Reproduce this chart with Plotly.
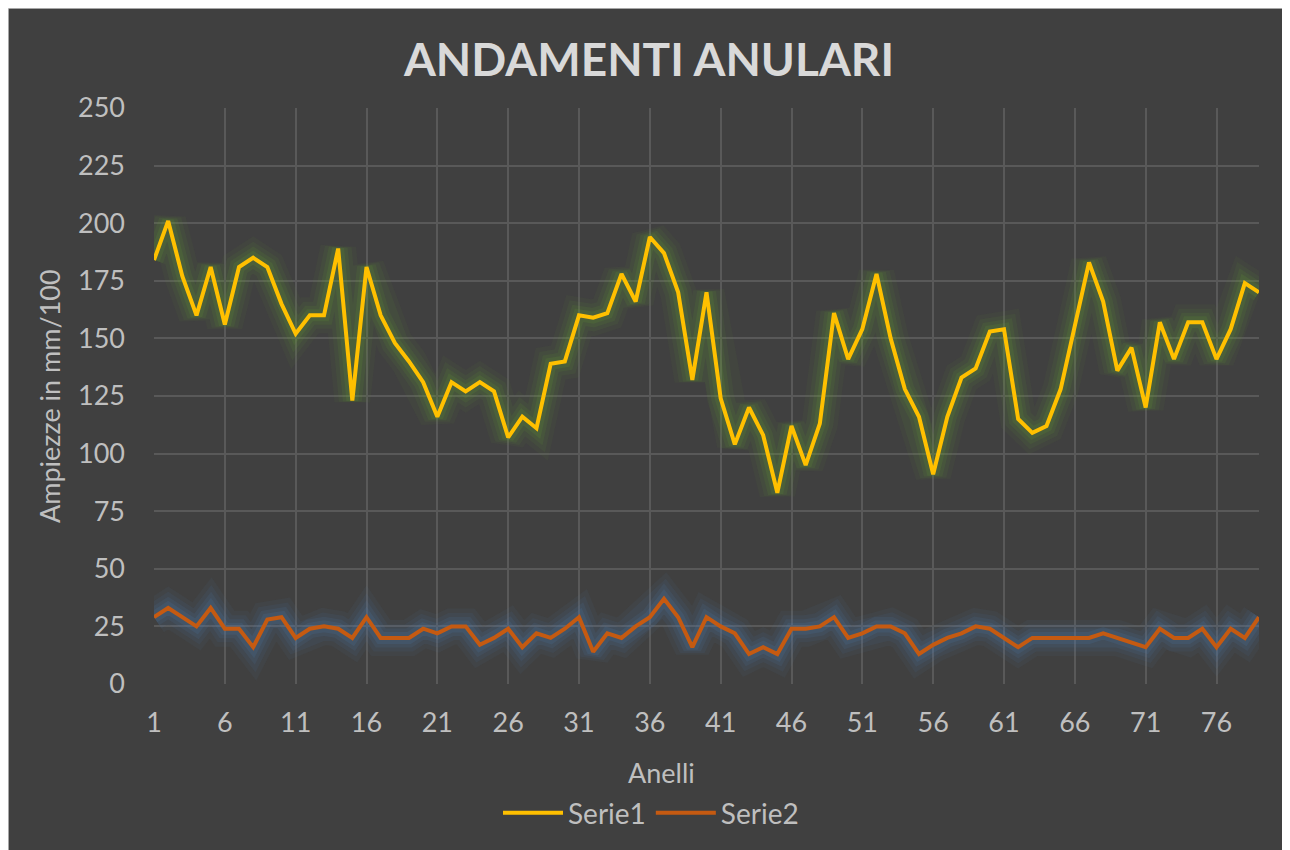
import plotly.graph_objects as go

anelli = list(range(1, 80))
serie1 = [184, 201, 177, 160, 181, 156, 181, 185, 181, 165,
          152, 160, 160, 189, 123, 181, 160, 148, 140, 131,
          116, 131, 127, 131, 127, 107, 116, 111, 139, 140,
          160, 159, 161, 178, 166, 194, 187, 170, 132, 170,
          124, 104, 120, 108, 83, 112, 95, 113, 161, 141,
          154, 178, 150, 128, 116, 91, 116, 133, 137, 153,
          154, 115, 109, 112, 128, 156, 183, 166, 136, 146,
          120, 157, 141, 157, 157, 141, 154, 174, 170]
serie2 = [29, 33, 29, 25, 33, 24, 24, 16, 28, 29,
          20, 24, 25, 24, 20, 29, 20, 20, 20, 24,
          22, 25, 25, 17, 20, 24, 16, 22, 20, 24,
          29, 14, 22, 20, 25, 29, 37, 29, 16, 29,
          25, 22, 13, 16, 13, 24, 24, 25, 29, 20,
          22, 25, 25, 22, 13, 17, 20, 22, 25, 24,
          20, 16, 20, 20, 20, 20, 20, 22, 20, 18,
          16, 24, 20, 20, 24, 16, 24, 20, 29]
x_ticks = list(range(1, 80, 5))
y_ticks = list(range(0, 251, 25))

BG = "#404040"
GRID = "#595959"
TXT = "#bfbfbf"
FONT = "Lato"

fig = go.Figure()

# glow layers
for w, a in [(36, 0.06), (27, 0.08), (19, 0.11), (12, 0.14)]:
    fig.add_trace(go.Scatter(x=anelli, y=serie1, mode="lines", showlegend=False, hoverinfo="skip",
                             line=dict(color=f"rgba(100,160,50,{a})", width=w)))
    fig.add_trace(go.Scatter(x=anelli, y=serie2, mode="lines", showlegend=False, hoverinfo="skip",
                             line=dict(color=f"rgba(80,130,185,{a})", width=w)))

fig.add_trace(go.Scatter(x=anelli, y=serie1, mode="lines", name="Serie1",
                         line=dict(color="#ffc000", width=4)))
fig.add_trace(go.Scatter(x=anelli, y=serie2, mode="lines", name="Serie2",
                         line=dict(color="#c55a11", width=4)))

OFF = 8  # page body margin
W, H = 1290 - OFF, 850 - OFF
L, T = 154 - OFF, 108 - OFF
R = W - (1259 - OFF)
B = H - (684 - OFF)
PW = W - L - R
PH = H - T - B

def px_x(p):
    return (p - OFF - L) / PW

def px_y(p):
    return (H - B - (p - OFF)) / PH

fig.update_layout(
    width=W, height=H,
    margin=dict(l=L, r=R, t=T, b=B),
    paper_bgcolor=BG,
    plot_bgcolor=BG,
    font=dict(family=FONT, color=TXT, size=27),
    title=dict(text="<b>ANDAMENTI ANULARI</b>", x=(649 - OFF) / W, xanchor="center",
               y=1 - (60 - OFF) / H, yanchor="middle",
               font=dict(family=FONT, size=46, color="#d9d9d9")),
    xaxis=dict(range=[1, 79], tickmode="array", tickvals=x_ticks, ticktext=[str(v) for v in x_ticks],
               showgrid=True, gridcolor=GRID, gridwidth=1.5, zeroline=False, showline=False,
               ticks="", ticklabelstandoff=20, tickfont=dict(size=27, color=TXT, family=FONT)),
    yaxis=dict(range=[0, 250], tickmode="array", tickvals=y_ticks, ticktext=[str(v) for v in y_ticks],
               showgrid=True, gridcolor=GRID, gridwidth=1.5, zeroline=False, showline=False,
               ticks="", ticklabelstandoff=28, tickfont=dict(size=27, color=TXT, family=FONT)),
    legend=dict(orientation="h", x=px_x(651), xanchor="center", y=px_y(813), yanchor="middle",
                font=dict(size=28, color=TXT, family=FONT), bgcolor="rgba(0,0,0,0)",
                itemwidth=60, tracegroupgap=0),
    showlegend=True,
    shapes=[dict(type="line", xref="paper", yref="paper", layer="below",
                 x0=px_x(OFF), x1=px_x(1291), y0=px_y(OFF), y1=px_y(OFF),
                 line=dict(color="#c8c8c8", width=1.5)),
            dict(type="line", xref="paper", yref="paper", layer="below",
                 x0=px_x(OFF), x1=px_x(OFF), y0=px_y(OFF), y1=px_y(851),
                 line=dict(color="#c8c8c8", width=1.5))],
    annotations=[
        dict(text="Anelli", xref="paper", yref="paper", x=px_x(661), y=px_y(772),
             xanchor="center", yanchor="middle", showarrow=False,
             font=dict(size=27, color=TXT, family=FONT)),
        dict(text="Ampiezze in mm/100", xref="paper", yref="paper", x=px_x(49), y=px_y(396),
             xanchor="center", yanchor="middle", showarrow=False, textangle=-90,
             font=dict(size=27, color=TXT, family=FONT)),
    ],
)

fig.write_html("out.html")
